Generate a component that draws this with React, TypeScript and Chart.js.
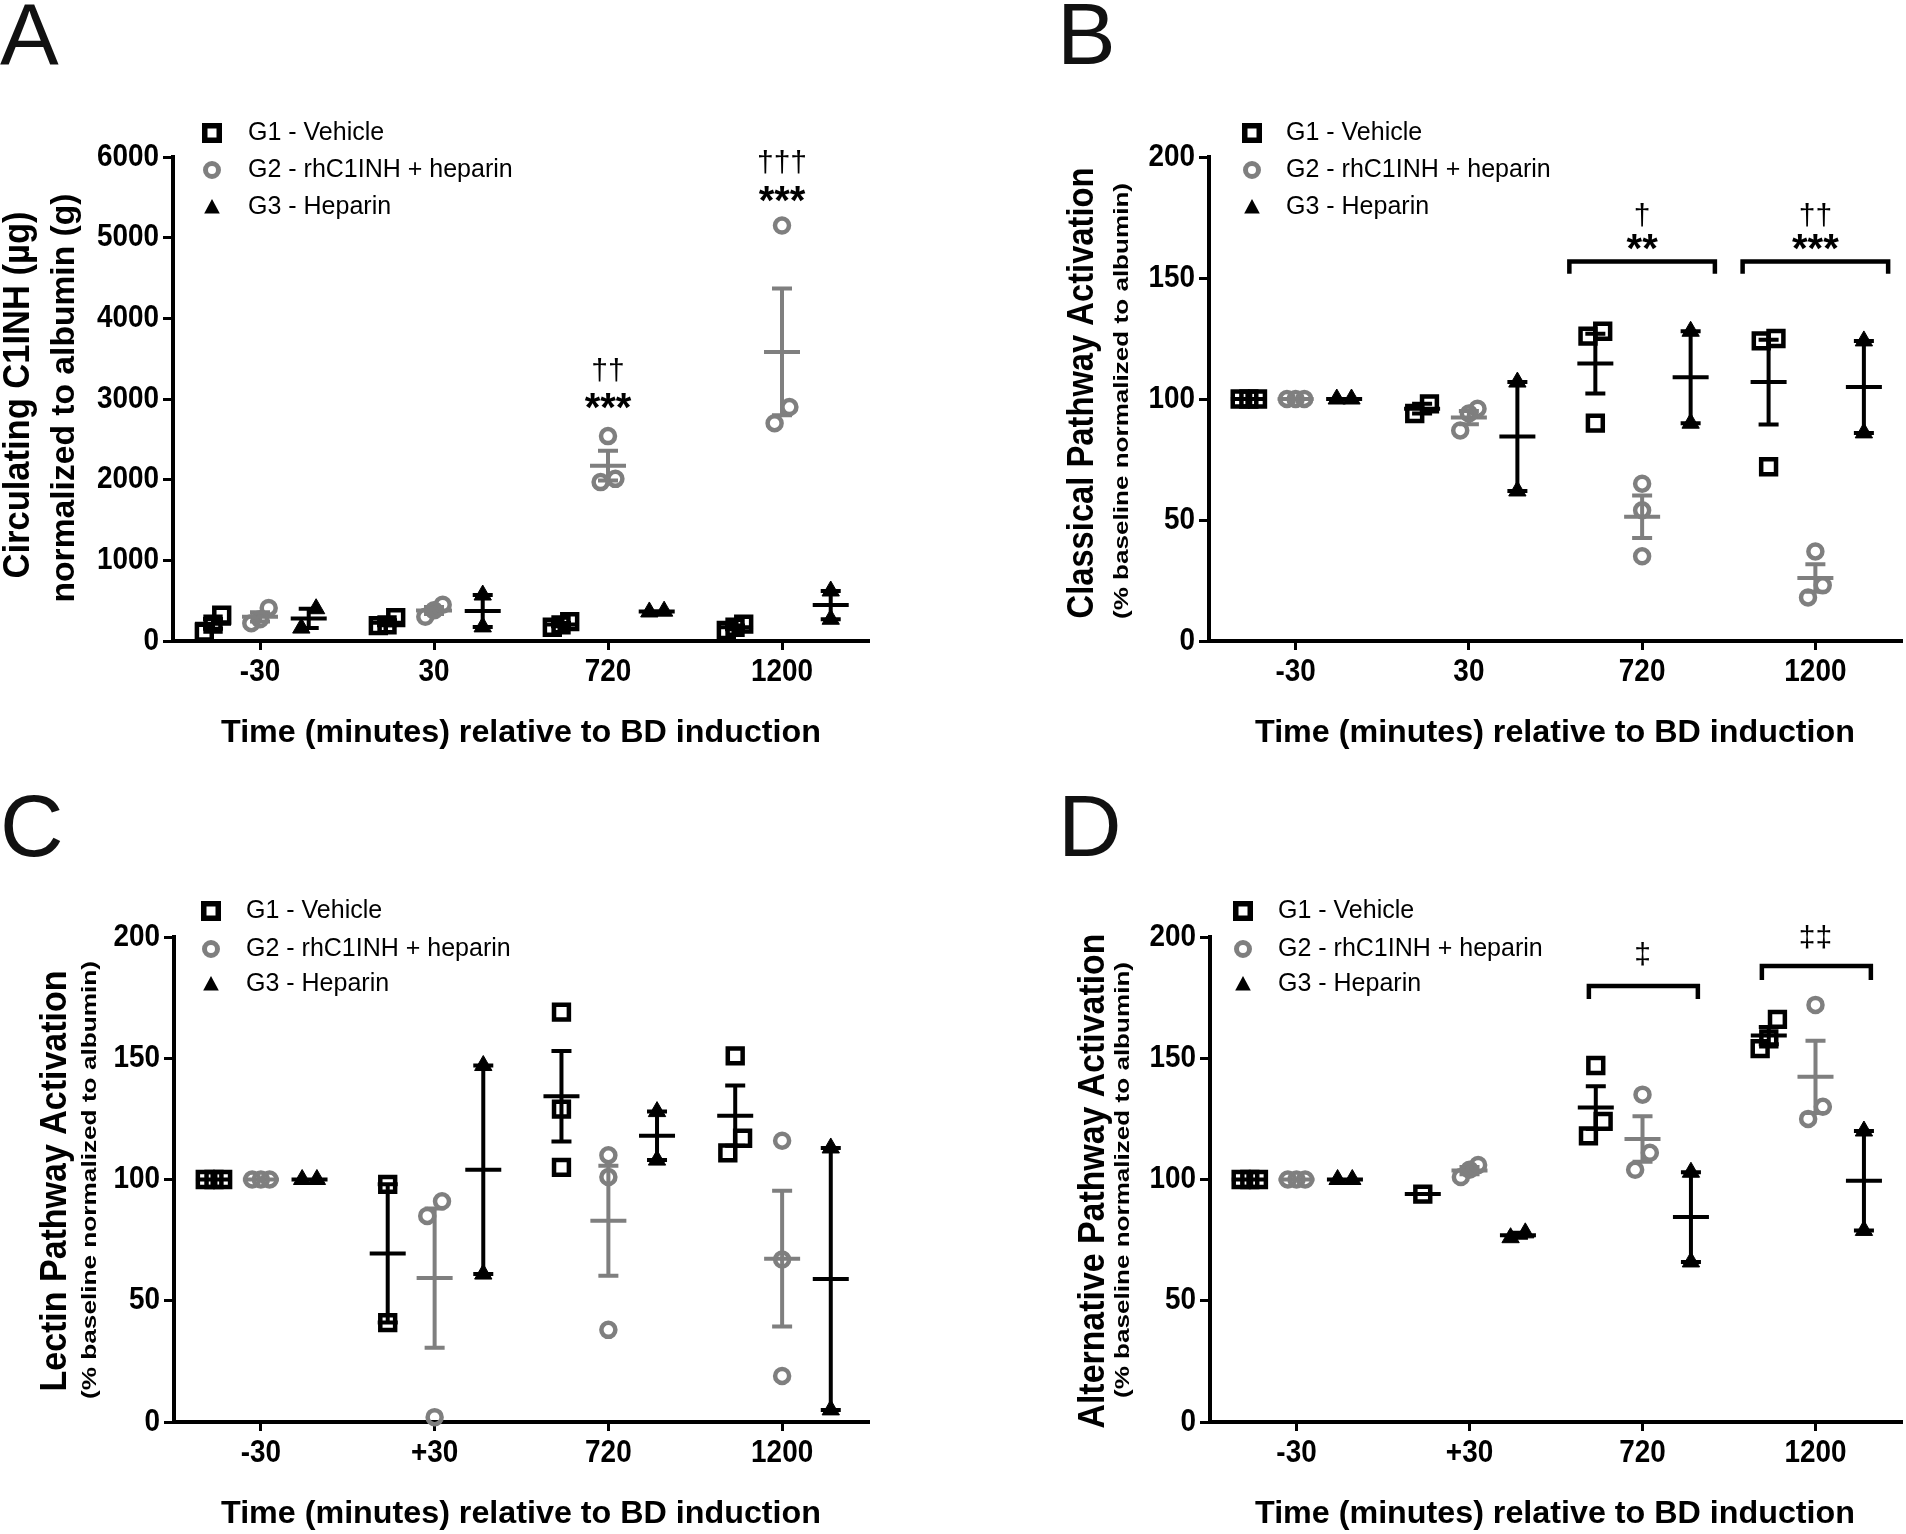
import React, { useEffect, useRef } from 'react';
import { Chart, registerables } from 'chart.js';

Chart.register(...registerables);

// ---------- data ----------
const TIMES_TOP = ['-30', '30', '720', '1200'];
const TIMES_BOTTOM = ['-30', '+30', '720', '1200'];
const GROUP_LABELS = ['G1 - Vehicle', 'G2 - rhC1INH + heparin', 'G3 - Heparin'];
const X_TITLE = 'Time (minutes) relative to BD induction';

// Panel A: circulating C1INH (µg) normalized to albumin (g); one inner array per time point
const A_G1 = [[320, 210, 110], [190, 290, 200], [240, 200, 170], [210, 170, 130]];
const A_G2 = [[410, 270, 220], [450, 380, 300], [2540, 2010, 1970], [5150, 2900, 2700]];
const A_G3 = [[400, 160], [570, 175], [370, 360], [620, 270]];

// Panel B: classical pathway activation (% baseline)
const B_G1 = [[100, 100, 100], [94, 98], [128, 126, 90], [125, 124, 72]];
const B_G2 = [[100, 100, 100], [96, 94, 87], [65, 54, 35], [37, 23, 18]];
const B_G3 = [[100, 100], [107, 62], [128, 90], [124, 86]];

// Panel C: lectin pathway activation (% baseline)
const C_G1 = [[100, 100, 100], [98, 41], [169, 129, 105], [151, 117, 111]];
const C_G2 = [[100, 100, 100], [91, 85, 2], [110, 101, 38], [116, 67, 19]];
const C_G3 = [[100, 100], [147, 61], [128, 108], [113, 5]];

// Panel D: alternative pathway activation (% baseline)
const D_G1 = [[100, 100, 100], [94], [147, 124, 118], [166, 158, 154]];
const D_G2 = [[100, 100, 100], [106, 104, 101], [135, 111, 104], [172, 130, 125]];
const D_G3 = [[100, 100], [76, 78], [103, 66], [120, 79]];

// significance marks (time index, value on y axis)
const A_NOTES = [
  { time: 2, value: 3360, text: '††' },
  { time: 2, value: 2980, text: '***' },
  { time: 3, value: 5940, text: '†††' },
  { time: 3, value: 5540, text: '***' },
];
const B_NOTES = [
  { time: 2, value: 176, text: '†' },
  { time: 2, value: 165, text: '**' },
  { time: 3, value: 176, text: '††' },
  { time: 3, value: 165, text: '***' },
];
const B_BRACKETS = [
  { time: 2, top: 156.8, leg: 151.8 },
  { time: 3, top: 156.8, leg: 151.8 },
];
const D_NOTES = [
  { time: 2, value: 193, text: '‡' },
  { time: 3, value: 200, text: '‡‡' },
];
const D_BRACKETS = [
  { time: 2, top: 179.8, leg: 174.4 },
  { time: 3, top: 188, leg: 182.3 },
];

// ---------- styling ----------
const FONT = '"Liberation Sans", Arial, Helvetica, sans-serif';
const GREY = '#7f7f7f';
const GROUP_COLORS = ['#000000', GREY, '#000000'];
const GROUP_OFFSETS = [-0.27, 0, 0.28];
const W = 953;
const H = 767;
const TICK_FONT_SIZE = 31;
const TICK_SQUEEZE = 0.9;

type Note = { time: number; value: number; text: string };
type Bracket = { time: number; top: number; leg: number };
type TitleLine = { text: string; x: number; y: number; size: number; width: number };
type PanelDef = {
  letter: string; left: number; top: number;
  area: { l: number; t: number; r: number; b: number };
  cats: string[]; groups: number[][][]; yMax: number; yStep: number;
  letterX: number; letterY: number;
  legend: { mx: number; tx: number; rows: number[] };
  yTitle: TitleLine[]; xTitle: { x: number; y: number };
  notes: Note[]; brackets: Bracket[]; bracketSpan: [number, number];
};

const PANELS: PanelDef[] = [
  {
    letter: 'A', left: 0, top: 0, area: { l: 173, t: 157, r: 869, b: 641 },
    cats: TIMES_TOP, groups: [A_G1, A_G2, A_G3], yMax: 6000, yStep: 1000,
    letterX: 0, letterY: 65,
    legend: { mx: 212, tx: 248, rows: [133, 170, 207] },
    yTitle: [
      { text: 'Circulating C1INH (µg)', x: 29, y: 395, size: 36, width: 367 },
      { text: 'normalized to albumin (g)', x: 74, y: 398, size: 34, width: 409 },
    ],
    xTitle: { x: 521, y: 742 },
    notes: A_NOTES, brackets: [], bracketSpan: [0, 0],
  },
  {
    letter: 'B', left: 953, top: 0, area: { l: 256, t: 157, r: 949, b: 641 },
    cats: TIMES_TOP, groups: [B_G1, B_G2, B_G3], yMax: 200, yStep: 50,
    letterX: 104, letterY: 64,
    legend: { mx: 299, tx: 333, rows: [133, 170, 207] },
    yTitle: [
      { text: 'Classical Pathway Activation', x: 140, y: 393, size: 36, width: 451 },
      { text: '(% baseline normalized to albumin)', x: 175, y: 401, size: 21, width: 436 },
    ],
    xTitle: { x: 602, y: 742 },
    notes: B_NOTES, brackets: B_BRACKETS, bracketSpan: [-0.42, 0.42],
  },
  {
    letter: 'C', left: 0, top: 767, area: { l: 174, t: 170, r: 869, b: 655 },
    cats: TIMES_BOTTOM, groups: [C_G1, C_G2, C_G3], yMax: 200, yStep: 50,
    letterX: 0, letterY: 89,
    legend: { mx: 211, tx: 246, rows: [144, 182, 217] },
    yTitle: [
      { text: 'Lectin Pathway Activation', x: 66, y: 414, size: 36, width: 421 },
      { text: '(% baseline normalized to albumin)', x: 96, y: 413, size: 21, width: 438 },
    ],
    xTitle: { x: 521, y: 756 },
    notes: [], brackets: [], bracketSpan: [0, 0],
  },
  {
    letter: 'D', left: 953, top: 767, area: { l: 257, t: 170, r: 949, b: 655 },
    cats: TIMES_BOTTOM, groups: [D_G1, D_G2, D_G3], yMax: 200, yStep: 50,
    letterX: 105, letterY: 89,
    legend: { mx: 290, tx: 325, rows: [144, 182, 217] },
    yTitle: [
      { text: 'Alternative Pathway Activation', x: 151, y: 414, size: 36, width: 495 },
      { text: '(% baseline normalized to albumin)', x: 176, y: 413, size: 21, width: 436 },
    ],
    xTitle: { x: 602, y: 756 },
    notes: D_NOTES, brackets: D_BRACKETS, bracketSpan: [-0.31, 0.32],
  },
];

// ---------- helpers ----------
const mean = (v: number[]) => v.reduce((a, b) => a + b, 0) / v.length;
const sem = (v: number[]) => {
  if (v.length < 2) return 0;
  const m = mean(v);
  const sd = Math.sqrt(v.reduce((a, b) => a + (b - m) * (b - m), 0) / (v.length - 1));
  return sd / Math.sqrt(v.length);
};

// horizontal spreading of overlapping points (like a column scatter)
function spread(vals: number[], thr: number): number[] {
  const idx = vals.map((_, i) => i).sort((a, b) => vals[a] - vals[b]);
  const out = new Array(vals.length).fill(0);
  let cluster: number[] = [];
  const flush = () => {
    const n = cluster.length;
    const step = n === 2 ? 0.085 : 0.05;
    cluster.forEach((id, k) => { out[id] = (k - (n - 1) / 2) * step; });
    cluster = [];
  };
  idx.forEach((id) => {
    if (cluster.length && vals[id] - vals[cluster[cluster.length - 1]] > thr) flush();
    cluster.push(id);
  });
  flush();
  return out;
}

function fitText(ctx: CanvasRenderingContext2D, text: string, x: number, y: number, font: string, width: number, rotate: boolean) {
  ctx.save();
  ctx.font = font;
  ctx.textAlign = 'center';
  ctx.textBaseline = 'alphabetic';
  const w = ctx.measureText(text).width;
  ctx.translate(x, y);
  if (rotate) ctx.rotate(-Math.PI / 2);
  ctx.scale(width / w, 1);
  ctx.fillText(text, 0, 0);
  ctx.restore();
}

function squeezedText(ctx: CanvasRenderingContext2D, text: string, x: number, y: number, align: CanvasTextAlign) {
  ctx.save();
  ctx.font = `bold ${TICK_FONT_SIZE}px ${FONT}`;
  ctx.fillStyle = '#000';
  ctx.textAlign = align;
  ctx.textBaseline = 'middle';
  ctx.translate(x, y);
  ctx.scale(TICK_SQUEEZE, 1);
  ctx.fillText(text, 0, 0);
  ctx.restore();
}

function legendMarker(ctx: CanvasRenderingContext2D, gi: number, x: number, y: number) {
  ctx.save();
  if (gi === 0) {
    ctx.strokeStyle = '#000';
    ctx.lineWidth = 5.5;
    ctx.strokeRect(x - 7.25, y - 7.25, 14.5, 14.5);
  } else if (gi === 1) {
    ctx.strokeStyle = GREY;
    ctx.lineWidth = 5;
    ctx.beginPath();
    ctx.arc(x, y, 6.5, 0, Math.PI * 2);
    ctx.stroke();
  } else {
    ctx.fillStyle = '#000';
    ctx.beginPath();
    ctx.moveTo(x, y - 8);
    ctx.lineTo(x + 7.8, y + 6.5);
    ctx.lineTo(x - 7.8, y + 6.5);
    ctx.closePath();
    ctx.fill();
  }
  ctx.restore();
}

function makePlugin(p: PanelDef) {
  return {
    id: 'decor' + p.letter,
    beforeDatasetsDraw(chart: any) {
      const ctx: CanvasRenderingContext2D = chart.ctx;
      const xs = chart.scales.x;
      const ys = chart.scales.y;
      ctx.save();
      ctx.lineWidth = 4;
      ctx.lineCap = 'butt';
      p.groups.forEach((g, gi) => {
        ctx.strokeStyle = GROUP_COLORS[gi];
        g.forEach((vals, ti) => {
          const m = mean(vals);
          const s = sem(vals);
          const cx = xs.getPixelForValue(ti + GROUP_OFFSETS[gi]);
          const yM = ys.getPixelForValue(m);
          ctx.beginPath();
          if (s > 0) {
            const yT = ys.getPixelForValue(m + s);
            const yB = ys.getPixelForValue(m - s);
            ctx.moveTo(cx, yT); ctx.lineTo(cx, yB);
            ctx.moveTo(cx - 10, yT); ctx.lineTo(cx + 10, yT);
            ctx.moveTo(cx - 10, yB); ctx.lineTo(cx + 10, yB);
          }
          ctx.moveTo(cx - 18, yM); ctx.lineTo(cx + 18, yM);
          ctx.stroke();
        });
      });
      ctx.restore();
    },
    afterDraw(chart: any) {
      const ctx: CanvasRenderingContext2D = chart.ctx;
      const xs = chart.scales.x;
      const ys = chart.scales.y;
      const area = chart.chartArea;
      ctx.save();
      // tick labels (condensed bold, like the original)
      xs.ticks.forEach((t: any) => {
        squeezedText(ctx, p.cats[Math.round(t.value)] ?? '', xs.getPixelForValue(t.value), area.bottom + 31, 'center');
      });
      ys.ticks.forEach((t: any) => {
        squeezedText(ctx, String(t.value), area.left - 14, ys.getPixelForValue(t.value), 'right');
      });
      // panel letter
      ctx.fillStyle = '#111';
      ctx.font = `88px ${FONT}`;
      ctx.textAlign = 'left';
      ctx.textBaseline = 'alphabetic';
      ctx.fillText(p.letter, p.letterX, p.letterY);
      // legend
      p.legend.rows.forEach((ry, gi) => {
        legendMarker(ctx, gi, p.legend.mx, ry);
        ctx.fillStyle = '#000';
        ctx.font = `25px ${FONT}`;
        ctx.textAlign = 'left';
        ctx.textBaseline = 'middle';
        ctx.fillText(GROUP_LABELS[gi], p.legend.tx, ry);
      });
      // axis titles
      ctx.fillStyle = '#000';
      p.yTitle.forEach((t) => fitText(ctx, t.text, t.x, t.y, `bold ${t.size}px ${FONT}`, t.width, true));
      fitText(ctx, X_TITLE, p.xTitle.x, p.xTitle.y, `bold 32px ${FONT}`, 600, false);
      // brackets
      ctx.strokeStyle = '#000';
      ctx.lineWidth = 4.5;
      ctx.lineJoin = 'miter';
      p.brackets.forEach((b) => {
        const x0 = xs.getPixelForValue(b.time + p.bracketSpan[0]);
        const x1 = xs.getPixelForValue(b.time + p.bracketSpan[1]);
        const yt = ys.getPixelForValue(b.top);
        const yl = ys.getPixelForValue(b.leg);
        ctx.beginPath();
        ctx.moveTo(x0, yl); ctx.lineTo(x0, yt); ctx.lineTo(x1, yt); ctx.lineTo(x1, yl);
        ctx.stroke();
      });
      // significance marks
      p.notes.forEach((n) => {
        const star = n.text.includes('*');
        ctx.font = star ? `bold 40px ${FONT}` : `30px ${FONT}`;
        ctx.textAlign = 'center';
        ctx.textBaseline = 'alphabetic';
        const m = ctx.measureText(n.text);
        const cx = xs.getPixelForValue(n.time);
        const cy = ys.getPixelForValue(n.value);
        ctx.fillText(n.text, cx, cy + (m.actualBoundingBoxAscent - m.actualBoundingBoxDescent) / 2);
      });
      ctx.restore();
    },
  };
}

const POINT_STYLES = ['rect', 'circle', 'triangle'];
const POINT_RADII = [10.5, 7, 10];
const POINT_BORDERS = [4.5, 4.5, 1];
const POINT_FILLS = ['rgba(0,0,0,0)', 'rgba(0,0,0,0)', '#000'];

function buildConfig(p: PanelDef): any {
  const Y_AXIS_W = 80;
  const X_AXIS_H = 100;
  return {
    type: 'scatter',
    data: {
      datasets: p.groups.map((g, gi) => ({
        label: GROUP_LABELS[gi],
        data: g.flatMap((vals, ti) => {
          const off = spread(vals, p.yMax * 0.04);
          return vals.map((v, k) => ({ x: ti + GROUP_OFFSETS[gi] + off[k], y: v }));
        }),
        showLine: false,
        clip: false,
        pointStyle: POINT_STYLES[gi],
        pointRadius: POINT_RADII[gi],
        pointBorderWidth: POINT_BORDERS[gi],
        pointBorderColor: GROUP_COLORS[gi],
        pointBackgroundColor: POINT_FILLS[gi],
        borderColor: GROUP_COLORS[gi],
        backgroundColor: POINT_FILLS[gi],
      })),
    },
    options: {
      animation: false,
      responsive: false,
      maintainAspectRatio: false,
      devicePixelRatio: 1,
      events: [],
      layout: {
        autoPadding: false,
        padding: { left: p.area.l - Y_AXIS_W, top: p.area.t, right: W - p.area.r, bottom: H - p.area.b - X_AXIS_H },
      },
      plugins: { legend: { display: false }, tooltip: { enabled: false } },
      scales: {
        x: {
          type: 'linear', min: -0.5, max: 3.5,
          afterBuildTicks: (s: any) => { s.ticks = p.cats.map((_, i) => ({ value: i })); },
          afterFit: (s: any) => { s.height = X_AXIS_H; },
          ticks: { display: false, callback: (v: number) => p.cats[Math.round(v)] ?? '' },
          grid: { display: true, drawOnChartArea: false, drawTicks: true, tickLength: 9, tickWidth: 3, tickColor: '#000', color: '#000' },
          border: { display: true, color: '#000', width: 4 },
        },
        y: {
          type: 'linear', min: 0, max: p.yMax,
          afterFit: (s: any) => { s.width = Y_AXIS_W; },
          ticks: { display: false, stepSize: p.yStep, callback: (v: number) => String(v) },
          grid: { display: true, drawOnChartArea: false, drawTicks: true, tickLength: 10, tickWidth: 3, tickColor: '#000', color: '#000' },
          border: { display: true, color: '#000', width: 4 },
        },
      },
    },
    plugins: [makePlugin(p)],
  };
}

function Panel({ p }: { p: PanelDef }) {
  const ref = useRef<HTMLCanvasElement>(null);
  useEffect(() => {
    if (!ref.current) return;
    const chart = new Chart(ref.current, buildConfig(p));
    return () => chart.destroy();
  }, [p]);
  return (
    <div style={{ position: 'absolute', left: p.left, top: p.top, width: W, height: H }}>
      <canvas ref={ref} width={W} height={H} style={{ width: W, height: H, display: 'block' }} />
    </div>
  );
}

export default function App() {
  return (
    <div style={{ position: 'absolute', left: 0, top: 0, width: 1906, height: 1534, background: '#fff', overflow: 'hidden' }}>
      {PANELS.map((p) => <Panel key={p.letter} p={p} />)}
    </div>
  );
}
